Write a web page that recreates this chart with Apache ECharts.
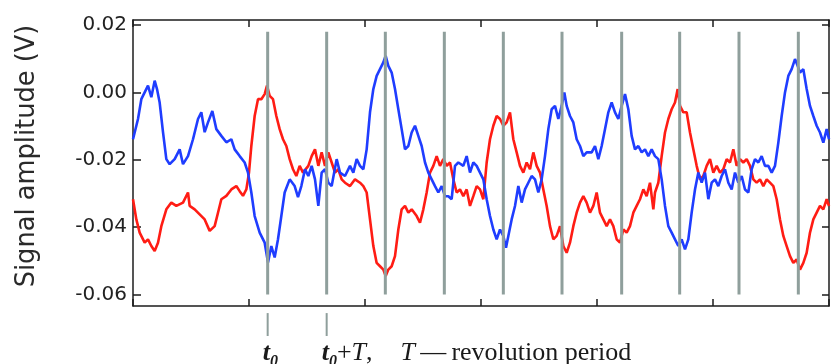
<!DOCTYPE html>
<html>
<head>
<meta charset="utf-8">
<script src="https://cdn.jsdelivr.net/npm/echarts@6/dist/echarts.min.js"></script>
<style>
  html, body { margin: 0; padding: 0; background: #ffffff; }
  #chart { width: 831px; height: 364px; }
</style>
</head>
<body>
<div id="chart"></div>
<script>
// Two pickup-coil signals (V) against time in samples.

const blueTime = [
  0, 15, 25, 35, 45, 55, 65, 72, 80, 90, 100, 110, 125, 140, 150, 165, 180, 195, 205, 215,
  225, 238, 250, 265, 280, 295, 305, 320, 335, 345, 355, 365, 380, 395, 405, 415, 425, 435, 445, 455,
  470, 485, 495, 505,
  516, 526, 536, 546, 556, 566, 576, 586, 596, 611, 621, 636, 651, 661, 671, 681, 691, 701, 711, 721,
  731, 741, 751, 758, 766, 776, 786, 796, 806, 816, 826, 836, 846, 856, 866, 876, 886, 896, 906, 916,
  926, 936, 946, 956, 966, 976, 991, 1001, 1011, 1021, 1031,
  1041, 1051, 1061, 1071, 1081, 1091, 1101, 1111, 1119, 1126, 1136, 1146, 1156, 1166, 1176, 1186, 1196, 1206, 1216, 1226,
  1236, 1246, 1256, 1266, 1276, 1286, 1294, 1301, 1311, 1321, 1331, 1341, 1351, 1361, 1376, 1386, 1396, 1406, 1416, 1426,
  1436, 1446, 1456, 1466, 1476, 1486, 1496, 1506, 1516, 1526, 1536, 1546, 1556,
  1566, 1576, 1586, 1596, 1606, 1616, 1626, 1636, 1646, 1656, 1666, 1676, 1686, 1696, 1706, 1716, 1726, 1736, 1746, 1756,
  1766, 1776, 1786, 1796, 1806, 1816, 1826, 1836, 1846, 1856, 1866, 1876, 1886, 1896, 1906, 1916, 1926, 1936, 1946, 1956,
  1966, 1976, 1986, 1994, 2001, 2011, 2021, 2031, 2041, 2051, 2061, 2071, 2081, 2088
];
const blueSignal = [
  -0.0139, -0.0079, -0.0020, 0.0000, 0.0020, -0.0014, 0.0035, 0.0010, -0.0030, -0.0118,
  -0.0198, -0.0213, -0.0198, -0.0169, -0.0213, -0.0189, -0.0139, -0.0079, -0.0059, -0.0118,
  -0.0089, -0.0055, -0.0109, -0.0129, -0.0148, -0.0139, -0.0169, -0.0189, -0.0208, -0.0238,
  -0.0297, -0.0367, -0.0416, -0.0446, -0.0505, -0.0456, -0.0490, -0.0436, -0.0367, -0.0297,
  -0.0258, -0.0278, -0.0311, -0.0278,
  -0.0228, -0.0248, -0.0218, -0.0258, -0.0337, -0.0238, -0.0228, -0.0268, -0.0278, -0.0198,
  -0.0238, -0.0248, -0.0218, -0.0238, -0.0198, -0.0218, -0.0228, -0.0169, -0.0059, 0.0010,
  0.0049, 0.0069, 0.0089, 0.0109, 0.0079, 0.0059, 0.0010, -0.0050, -0.0109, -0.0169,
  -0.0159, -0.0119, -0.0099, -0.0129, -0.0159, -0.0208, -0.0238, -0.0258, -0.0278, -0.0297,
  -0.0278, -0.0308, -0.0308, -0.0317, -0.0218, -0.0208, -0.0218, -0.0189, -0.0238, -0.0208,
  -0.0218,
  -0.0238, -0.0258, -0.0317, -0.0367, -0.0407, -0.0436, -0.0407, -0.0426, -0.0461, -0.0426,
  -0.0377, -0.0337, -0.0278, -0.0327, -0.0288, -0.0268, -0.0248, -0.0258, -0.0297, -0.0258,
  -0.0189, -0.0109, -0.0050, -0.0040, -0.0079, -0.0040, 0.0000, -0.0040, -0.0070, -0.0089,
  -0.0139, -0.0159, -0.0189, -0.0178, -0.0178, -0.0159, -0.0198, -0.0159, -0.0109, -0.0059,
  -0.0030, -0.0059, -0.0079, -0.0040, -0.0005, -0.0050, -0.0129, -0.0169, -0.0159, -0.0178,
  -0.0169, -0.0189, -0.0169,
  -0.0189, -0.0198, -0.0258, -0.0337, -0.0397, -0.0416, -0.0436, -0.0456, -0.0436, -0.0466,
  -0.0436, -0.0357, -0.0288, -0.0238, -0.0268, -0.0238, -0.0317, -0.0268, -0.0258, -0.0278,
  -0.0248, -0.0228, -0.0268, -0.0288, -0.0238, -0.0268, -0.0248, -0.0288, -0.0297, -0.0228,
  -0.0198, -0.0208, -0.0189, -0.0218, -0.0218, -0.0238, -0.0218, -0.0149, -0.0070, 0.0000,
  0.0049, 0.0069, 0.0099, 0.0079, 0.0059, 0.0069, 0.0010, -0.0040, -0.0070, -0.0099,
  -0.0119, -0.0149, -0.0109, -0.0139
];

const redTime = [
  0, 10, 20, 35, 45, 55, 65, 75, 85, 100, 115, 130, 150, 165, 170, 185, 200, 215, 230, 245,
  255, 265, 280, 295, 310, 320, 330, 340, 348, 355, 365, 375, 385, 395, 402, 410, 420, 430, 440, 450,
  460, 470, 480, 490, 500, 510,
  516, 526, 536, 546, 556, 566, 576, 586, 596, 606, 616, 626, 636, 651, 666, 681, 691, 701, 711, 721,
  731, 741, 751, 758, 766, 776, 786, 796, 806, 816, 826, 836, 851, 861, 871, 881, 891, 901, 911, 921,
  931, 941, 951, 961, 971, 981, 991, 1001, 1011, 1021, 1031,
  1041, 1051, 1061, 1071, 1081, 1091, 1101, 1111, 1121, 1131, 1141, 1151, 1161, 1171, 1181, 1191, 1201, 1211, 1221, 1231,
  1241, 1251, 1261, 1271, 1281, 1291, 1301, 1311, 1321, 1331, 1341, 1351, 1361, 1371, 1381, 1391, 1401, 1411, 1421, 1431,
  1441, 1451, 1461, 1471, 1481, 1491, 1501, 1511, 1521, 1531, 1541, 1551, 1561,
  1566, 1576, 1586, 1596, 1606, 1616, 1626, 1634, 1641, 1651, 1661, 1671, 1681, 1691, 1701, 1711, 1721, 1731, 1741, 1751,
  1761, 1771, 1781, 1791, 1801, 1811, 1821, 1831, 1841, 1851, 1861, 1871, 1881, 1891, 1901, 1911, 1921, 1931, 1941, 1951,
  1961, 1971, 1981, 1991, 2001, 2011, 2021, 2031, 2041, 2051, 2061, 2071, 2081, 2088
];
const redSignal = [
  -0.0317, -0.0377, -0.0416, -0.0446, -0.0436, -0.0456, -0.0471, -0.0446, -0.0397, -0.0347,
  -0.0327, -0.0337, -0.0327, -0.0297, -0.0337, -0.0347, -0.0362, -0.0377, -0.0411, -0.0397,
  -0.0357, -0.0317, -0.0307, -0.0288, -0.0278, -0.0293, -0.0307, -0.0288, -0.0238, -0.0159,
  -0.0070, -0.0020, -0.0020, -0.0005, 0.0020, -0.0010, -0.0020, -0.0070, -0.0109, -0.0139,
  -0.0159, -0.0198, -0.0228, -0.0248, -0.0218, -0.0238,
  -0.0238, -0.0218, -0.0189, -0.0169, -0.0218, -0.0178, -0.0218, -0.0178, -0.0208, -0.0238,
  -0.0228, -0.0258, -0.0268, -0.0278, -0.0258, -0.0268, -0.0278, -0.0297, -0.0377, -0.0456,
  -0.0506, -0.0516, -0.0526, -0.0545, -0.0526, -0.0516, -0.0486, -0.0407, -0.0347, -0.0337,
  -0.0357, -0.0347, -0.0367, -0.0387, -0.0347, -0.0297, -0.0238, -0.0218, -0.0189, -0.0218,
  -0.0198, -0.0218, -0.0208, -0.0258, -0.0297, -0.0288, -0.0308, -0.0288, -0.0337, -0.0308,
  -0.0278,
  -0.0288, -0.0317, -0.0208, -0.0139, -0.0099, -0.0070, -0.0079, -0.0099, -0.0089, -0.0059,
  -0.0139, -0.0178, -0.0218, -0.0238, -0.0208, -0.0228, -0.0178, -0.0218, -0.0238, -0.0288,
  -0.0337, -0.0397, -0.0436, -0.0426, -0.0397, -0.0456, -0.0476, -0.0446, -0.0397, -0.0357,
  -0.0327, -0.0308, -0.0327, -0.0357, -0.0337, -0.0297, -0.0357, -0.0377, -0.0397, -0.0377,
  -0.0397, -0.0436, -0.0446, -0.0407, -0.0416, -0.0397, -0.0357, -0.0337, -0.0317, -0.0288,
  -0.0308, -0.0268, -0.0347,
  -0.0297, -0.0268, -0.0189, -0.0119, -0.0079, -0.0050, -0.0030, 0.0010, -0.0040, -0.0059,
  -0.0059, -0.0119, -0.0169, -0.0218, -0.0258, -0.0248, -0.0218, -0.0198, -0.0238, -0.0218,
  -0.0238, -0.0228, -0.0198, -0.0208, -0.0169, -0.0218, -0.0198, -0.0208, -0.0198, -0.0218,
  -0.0258, -0.0268, -0.0258, -0.0278, -0.0258, -0.0268, -0.0278, -0.0317, -0.0377, -0.0426,
  -0.0456, -0.0486, -0.0506, -0.0496, -0.0526, -0.0506, -0.0476, -0.0416, -0.0377, -0.0357,
  -0.0337, -0.0347, -0.0317, -0.0337
];

// Times (samples) at which the rotor completes a revolution.
const revolutionMarks = [404, 581, 757, 934, 1111, 1287, 1466, 1640, 1818, 1996];

// Axis ticks.
const timeMax = 2088;
const timeTickStep = 348;
const amplitudeTicks = [-0.06, -0.04, -0.02, 0.00, 0.02];

// Labels under the first two revolution marks.
const markLabels = [
  '{t|t}{s|0}',
  '{t|t}{s|0}{p|+}{i|T}{p|,}{g|}{i|T}{p|\u2009\u2014\u2009revolution period}'
];

// ---- layout / style ----
const yMin = -0.0634, yMax = 0.0215;
const markSpan = [0.018, -0.060];       // vertical extent of the revolution lines
const tickBelow = [-0.0655, -0.0723];   // short marks under the axis
const frame = { color: '#1c1c1c', width: 1.5 };
const markColor = '#8f9f9c';

const zip = (t, v) => t.map((x, i) => [x, v[i]]);

const chart = echarts.init(document.getElementById('chart'), null, { renderer: 'canvas' });

const plainAxis = (extra) => Object.assign({
  type: 'value',
  axisLine: { show: true, onZero: false, lineStyle: { color: frame.color, width: frame.width } },
  axisTick: { show: true, inside: true, length: 7, lineStyle: { color: frame.color, width: frame.width } },
  axisLabel: { show: false },
  splitLine: { show: false }
}, extra);

const serif = 'Liberation Serif, Times New Roman, serif';

chart.setOption({
  animation: false,
  backgroundColor: '#ffffff',
  grid: { left: 133, right: 2, top: 20, bottom: 58, containLabel: false },
  xAxis: [
    plainAxis({ min: 0, max: timeMax, interval: timeTickStep, position: 'bottom' }),
    plainAxis({ min: 0, max: timeMax, interval: timeTickStep, position: 'top' })
  ],
  yAxis: [
    plainAxis({
      min: yMin, max: yMax, position: 'left',
      axisTick: { show: true, inside: true, length: 8, customValues: amplitudeTicks,
                  lineStyle: { color: frame.color, width: frame.width } },
      axisLabel: {
        show: true, customValues: amplitudeTicks, margin: 6,
        formatter: (v) => v.toFixed(2),
        fontFamily: 'DejaVu Sans', fontSize: 20, color: '#222222'
      },
      name: 'Signal amplitude (V)',
      nameLocation: 'middle', nameRotate: 90, nameGap: 93,
      nameTextStyle: { fontFamily: 'DejaVu Sans', fontSize: 25.7, color: '#2a2a2a', padding: [0, 0, 0, 14] }
    }),
    plainAxis({
      min: yMin, max: yMax, position: 'right',
      axisTick: { show: true, inside: true, length: 7, customValues: amplitudeTicks,
                  lineStyle: { color: frame.color, width: frame.width } }
    })
  ],
  series: [
    {
      name: 'red', type: 'line', data: zip(redTime, redSignal),
      showSymbol: false, symbol: 'none', z: 2,
      lineStyle: { color: '#ff1c14', width: 2.6 }
    },
    {
      name: 'blue', type: 'line', data: zip(blueTime, blueSignal),
      showSymbol: false, symbol: 'none', z: 3,
      lineStyle: { color: '#1f3dff', width: 2.6 }
    },
    {
      name: 'revolution', type: 'custom', z: 5, clip: false, silent: true,
      data: revolutionMarks.map((t) => [t]),
      renderItem: (params, api) => {
        const t = api.value(0);
        const a = api.coord([t, markSpan[0]]);
        const b = api.coord([t, markSpan[1]]);
        const children = [{
          type: 'line',
          shape: { x1: a[0], y1: a[1], x2: b[0], y2: b[1] },
          style: { stroke: markColor, lineWidth: 3 }
        }];
        if (params.dataIndex < markLabels.length) {
          const c = api.coord([t, tickBelow[0]]);
          const d = api.coord([t, tickBelow[1]]);
          children.push({
            type: 'line',
            shape: { x1: c[0], y1: c[1], x2: d[0], y2: d[1] },
            style: { stroke: markColor, lineWidth: 2 }
          });
          children.push({
            type: 'text',
            x: c[0] - 5, y: 370,
            style: {
              text: markLabels[params.dataIndex],
              align: 'left', verticalAlign: 'bottom',
              fill: '#1a1a1a',
              rich: {
                t: { fontFamily: serif, fontStyle: 'italic', fontWeight: 'bold', fontSize: 26, lineHeight: 30, verticalAlign: 'top' },
                s: { fontFamily: serif, fontStyle: 'italic', fontWeight: 'bold', fontSize: 16, lineHeight: 30, verticalAlign: 'bottom' },
                i: { fontFamily: serif, fontStyle: 'italic', fontSize: 26, lineHeight: 30, verticalAlign: 'top' },
                p: { fontFamily: serif, fontSize: 26, lineHeight: 30, verticalAlign: 'top' },
                g: { width: 28, lineHeight: 30 }
              }
            }
          });
        }
        return { type: 'group', children };
      }
    }
  ]
});
</script>
</body>
</html>
